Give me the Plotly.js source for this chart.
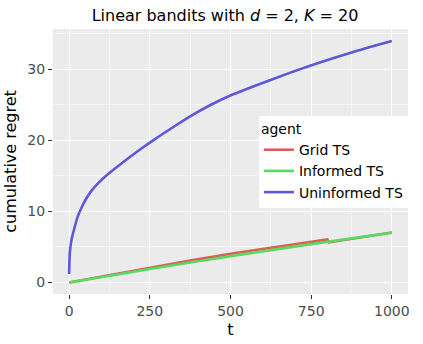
<!DOCTYPE html>
<html>
<head>
<meta charset="utf-8">
<script src="https://cdn.plot.ly/plotly-3.0.1.min.js"></script>
<style>
  html, body { margin: 0; padding: 0; background: #fff; overflow: hidden; }
  #chart { width: 423px; height: 344px; }
</style>
</head>
<body>
<div id="chart"></div>
<script>
// values
const gridT = [0, 125, 250, 375, 500, 650, 800, 805, 1000];
const gridRegret = [0, 1.05, 2.08, 3.08, 4.05, 5.1, 6.05, 5.65, 7.05];

const informedT = [0, 250, 500, 750, 1000];
const informedRegret = [0, 1.9, 3.7, 5.4, 7.0];

const uninformedT = [0, 2, 7, 16, 26, 39, 54, 69, 90, 111, 163, 225, 266, 323, 375, 438, 498, 591, 679, 751, 875, 1000];
const uninformedRegret = [1.2, 4.1, 5.95, 7.6, 9.2, 10.6, 11.9, 12.9, 14.0, 14.9, 16.8, 18.9, 20.2, 21.9, 23.4, 25.0, 26.3, 27.95, 29.45, 30.6, 32.4, 34.0];

const xTicks = [0, 250, 500, 750, 1000];
const yTicks = [0, 10, 20, 30];

// plotnine hue palette
const colors = { grid: '#DB5F57', informed: '#57DB5F', uninformed: '#5F57DB' };
const font = 'DejaVu Sans, sans-serif';

function line(x, y, name, color, shape) {
    return {
        x: x, y: y, name: name,
        type: 'scatter', mode: 'lines',
        line: { color: color, width: 2.6, shape: shape, smoothing: 0.6 }
    };
}

const data = [
    line(gridT, gridRegret, 'Grid TS', colors.grid, 'linear'),
    line(informedT, informedRegret, 'Informed TS', colors.informed, 'spline'),
    line(uninformedT, uninformedRegret, 'Uninformed TS', colors.uninformed, 'spline')
];

const axisCommon = {
    showgrid: true, gridcolor: '#FFFFFF', gridwidth: 1.1,
    zeroline: false, showline: false,
    ticks: 'outside', ticklen: 4, tickwidth: 1, tickcolor: '#333333',
    tickfont: { family: font, size: 14, color: '#4D4D4D' },
    automargin: false
};

const layout = {
    width: 423, height: 344,
    margin: { l: 53, r: 15, t: 29, b: 50, autoexpand: false },
    paper_bgcolor: '#FFFFFF',
    plot_bgcolor: '#EBEBEB',
    font: { family: font, color: '#000000' },
    title: {
        text: 'Linear bandits with <i>d</i> = 2, <i>K</i> = 20',
        font: { family: font, size: 16, color: '#000000' },
        xref: 'container', x: 0.532, xanchor: 'center',
        yref: 'container', y: 0.955, yanchor: 'middle'
    },
    xaxis: Object.assign({}, axisCommon, {
        range: [-50, 1050],
        tickvals: xTicks,
        minor: { dtick: 125, tick0: 0, showgrid: true, gridcolor: '#FFFFFF', gridwidth: 0.5, ticks: '' },
        title: { text: 't', font: { family: font, size: 16, color: '#000000' }, standoff: 6 }
    }),
    yaxis: Object.assign({}, axisCommon, {
        range: [-1.62, 35.7],
        tickvals: yTicks,
        minor: { dtick: 5, tick0: 0, showgrid: true, gridcolor: '#FFFFFF', gridwidth: 0.5, ticks: '' },
        title: { text: 'cumulative regret', font: { family: font, size: 16, color: '#000000' }, standoff: 6 }
    }),
    legend: {
        title: { text: 'agent', font: { family: font, size: 14, color: '#000000' } },
        font: { family: font, size: 14, color: '#000000' },
        bgcolor: '#FFFFFF', borderwidth: 0,
        x: 0.58, y: 0.672, xanchor: 'left', yanchor: 'top',
        itemwidth: 30, tracegroupgap: 0
    },
    showlegend: true
};

Plotly.newPlot('chart', data, layout, { displayModeBar: false, staticPlot: true });
</script>
</body>
</html>
